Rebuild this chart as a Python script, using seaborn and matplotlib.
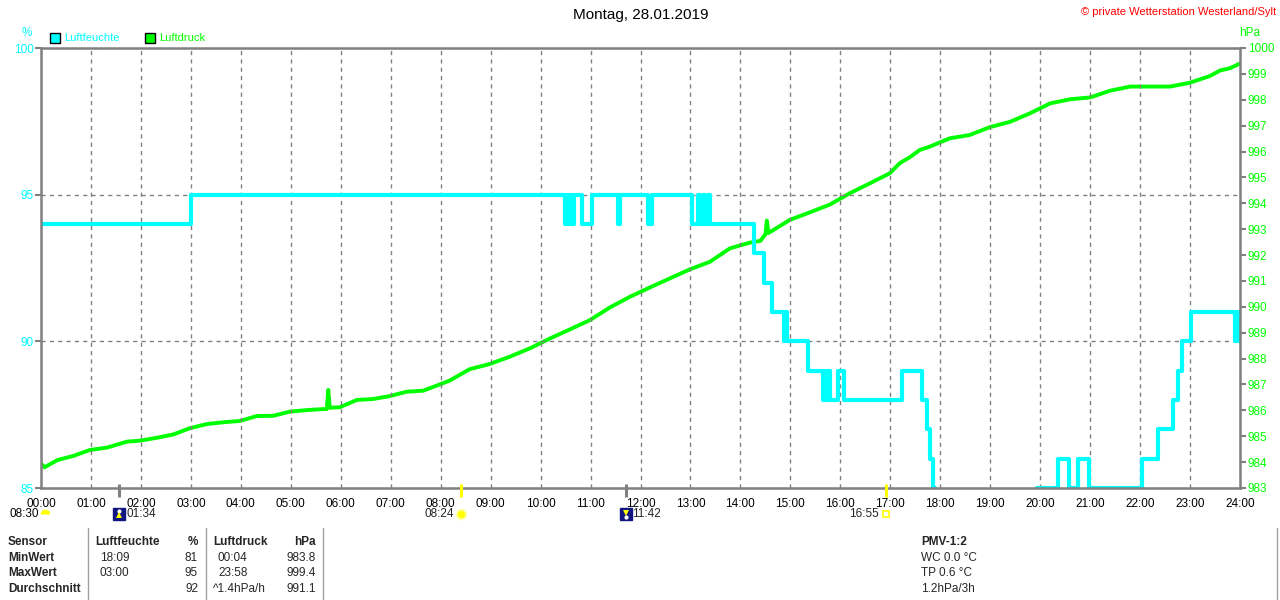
import matplotlib
matplotlib.use("Agg")
import matplotlib.pyplot as plt
import seaborn as sns
from matplotlib.patches import Rectangle
from matplotlib.lines import Line2D
from matplotlib.transforms import blended_transform_factory

# ---------------- data ----------------
hum_hours = [0.0, 3.0, 10.49, 10.53, 10.56, 10.60, 10.63, 10.67, 10.83, 11.03,
             11.54, 11.58, 12.15, 12.23, 13.03, 13.15, 13.20, 13.25, 13.30, 13.35,
             13.39, 14.27, 14.47, 14.63, 14.87, 14.90, 14.93, 15.35, 15.65, 15.69,
             15.72, 15.76, 15.79, 15.95, 16.07, 17.23, 17.63, 17.73, 17.80, 17.85,
             17.89, 18.0, 18.15, 18.6, 19.2, 19.6, 19.94, 20.36, 20.58, 20.76,
             20.98, 22.04, 22.36, 22.66, 22.76, 22.84, 23.02, 23.90, 23.93, 23.97, 24.0]
hum_values = [94, 95, 94, 95, 94, 95, 94, 95, 94, 95,
              94, 95, 94, 95, 94, 95, 94, 95, 94, 95,
              94, 93, 92, 91, 90, 91, 90, 89, 88, 89,
              88, 89, 88, 89, 88, 89, 88, 87, 86, 85,
              84, 82, 81, 82, 83, 84, 85, 86, 85, 86,
              85, 86, 87, 88, 89, 90, 91, 90, 91, 90, 90]

press_hours = [0.00, 0.07, 0.33, 0.65, 0.98, 1.32, 1.72, 1.98, 2.32, 2.65,
               2.98, 3.32, 3.65, 3.98, 4.32, 4.65, 4.98, 5.32, 5.65, 5.72,
               5.75, 5.78, 5.98, 6.32, 6.65, 6.98, 7.32, 7.65, 7.98, 8.18,
               8.58, 8.98, 9.38, 9.79, 10.19, 10.59, 10.99, 11.39, 11.79, 12.19,
               12.59, 12.99, 13.39, 13.79, 14.19, 14.40, 14.50, 14.53, 14.56, 14.99,
               15.39, 15.79, 16.19, 16.59, 16.99, 17.19, 17.39, 17.59, 17.79, 18.19,
               18.59, 18.99, 19.40, 19.80, 20.20, 20.60, 21.00, 21.40, 21.80, 22.20,
               22.60, 23.00, 23.40, 23.60, 23.80, 24.00]
press_values = [983.95, 983.80, 984.08, 984.24, 984.47, 984.56, 984.79, 984.83, 984.94, 985.07,
                985.31, 985.47, 985.54, 985.59, 985.78, 985.79, 985.95, 986.01, 986.05, 986.05,
                986.79, 986.10, 986.12, 986.40, 986.44, 986.55, 986.72, 986.76, 987.00, 987.15,
                987.59, 987.79, 988.07, 988.40, 988.78, 989.13, 989.49, 989.98, 990.39, 990.75,
                991.10, 991.45, 991.74, 992.26, 992.48, 992.55, 992.80, 993.33, 992.85, 993.36,
                993.65, 993.95, 994.39, 994.77, 995.16, 995.55, 995.78, 996.06, 996.19, 996.51,
                996.64, 996.94, 997.15, 997.48, 997.86, 998.02, 998.09, 998.35, 998.51, 998.51,
                998.51, 998.66, 998.92, 999.13, 999.22, 999.40]

hour_ticks = list(range(25))
hour_labels = [f"{h:02d}:00" for h in hour_ticks]
hum_ticks = [85, 90, 95, 100]
press_ticks = list(range(983, 1001))

event_times = [1 + 34 / 60, 8 + 24 / 60, 11 + 42 / 60, 16 + 55 / 60]
event_labels = ["01:34", "08:24", "11:42", "16:55"]

table_rows = ["Sensor", "MinWert", "MaxWert", "Durchschnitt"]
hum_col_times = ["Luftfeuchte", "18:09", "03:00", ""]
hum_col_vals = ["%", "81", "95", "92"]
press_col_times = ["Luftdruck", "00:04", "23:58", "^1.4hPa/h"]
press_col_vals = ["hPa", "983.8", "999.4", "991.1"]
pmv_lines = ["PMV-1:2", "WC 0.0 °C", "TP 0.6 °C", "1.2hPa/3h"]

CYAN = "#00FFFF"
GREEN = "#00FF00"
GRAY = "#808080"

# ---------------- figure ----------------
sns.set_theme(style="white")
plt.rcParams["font.family"] = ["Liberation Sans", "DejaVu Sans"]

W, H = 1280, 600
fig = plt.figure(figsize=(12.8, 6), dpi=100)
fig.patch.set_facecolor("white")
ax = fig.add_axes([41 / W, 1 - 488 / H, (1240 - 41) / W, (488 - 48) / H])
ax2 = ax.twinx()
ax.set_zorder(ax2.get_zorder() + 1)
ax.patch.set_visible(False)

sns.lineplot(x=press_hours, y=press_values, ax=ax2, color=GREEN, lw=2.8,
             estimator=None, sort=False, legend=False)
sns.lineplot(x=hum_hours, y=hum_values, ax=ax, color=CYAN, lw=3.0,
             drawstyle="steps-post", estimator=None, sort=False, legend=False)

ax.set_xlim(0, 24)
ax.set_ylim(85, 100)
ax2.set_ylim(983, 1000)
ax.set_xticks(hour_ticks)
ax.set_xticklabels(hour_labels)
ax.set_yticks(hum_ticks)
ax2.set_yticks(press_ticks)
for a in (ax, ax2):
    a.set_xlabel("")
    a.set_ylabel("")

ax.grid(True, color=GRAY, linestyle=(0, (3, 3)), lw=1.0)
ax2.grid(False)

for s in ax.spines.values():
    s.set_color(GRAY)
    s.set_linewidth(1.8)
for s in ax2.spines.values():
    s.set_visible(False)

ax.tick_params(axis="x", length=0, pad=7, labelsize=8.5, labelcolor="black")
ax.tick_params(axis="y", left=True, direction="out", length=4, width=1.5,
               color=GRAY, labelcolor=CYAN, labelsize=8.5, pad=1)
ax2.tick_params(axis="y", right=True, direction="out", length=4, width=1.5,
                color=GRAY, labelcolor=GREEN, labelsize=8.5, pad=1.5)


def ftext(xpx, ypx, s, **kw):
    kw.setdefault("va", "center")
    kw.setdefault("fontsize", 8.5)
    fig.text(xpx / W, 1 - ypx / H, s, **kw)


# title & header
ftext(641, 15, "Montag, 28.01.2019", ha="center", fontsize=11, color="black")
ftext(1276, 12, "© private Wetterstation Westerland/Sylt", ha="right", color="red",
      fontsize=8)
ftext(27, 33, "%", ha="center", color=CYAN)
ftext(1250, 33, "hPa", ha="center", color=GREEN)

# legend
fig.add_artist(Rectangle((50 / W, 1 - 43 / H), 10 / W, 10 / H, transform=fig.transFigure,
                         facecolor=CYAN, edgecolor="black", lw=1))
ftext(64, 38, "Luftfeuchte", ha="left", color=CYAN, fontsize=8)
fig.add_artist(Rectangle((145 / W, 1 - 43 / H), 10 / W, 10 / H, transform=fig.transFigure,
                         facecolor=GREEN, edgecolor="black", lw=1))
ftext(159, 38, "Luftdruck", ha="left", color=GREEN, fontsize=8)

# sun / moon row
trans = blended_transform_factory(ax.transData, fig.transFigure)
yrow = 1 - 514 / H
ftext(10, 514, "08:30", ha="left", color="black")
fig.add_artist(Line2D([45 / W], [yrow], marker="o", markersize=7, fillstyle="top",
                      markerfacecolor="#FFFF00", markerfacecoloralt="none",
                      markeredgewidth=0, transform=fig.transFigure))

event_colors = [GRAY, "#FFFF00", GRAY, "#FFFF00"]
for t, lab, c in zip(event_times, event_labels, event_colors):
    ax.plot([t, t], [1 - 484 / H, 1 - 497 / H], transform=trans, color=c, lw=2.2,
            clip_on=False, solid_capstyle="butt", zorder=10)

# moonrise 01:34
t = event_times[0]
ax.plot([t], [yrow], transform=trans, marker="s", markersize=8, color="#101880",
        clip_on=False)
ax.plot([t], [yrow + 3 / H], transform=trans, marker="o", markersize=3, color="white",
        clip_on=False, markeredgewidth=0)
ax.plot([t], [yrow - 1 / H], transform=trans, marker="^", markersize=4, color="#FFFF00",
        clip_on=False, markeredgewidth=0)
ax.annotate(event_labels[0], (t, yrow), xycoords=trans, xytext=(5, 0),
            textcoords="offset points", ha="left", va="center", fontsize=8.5)
# sun 08:24
t = event_times[1]
ax.plot([t], [yrow], transform=trans, marker="o", markersize=7, markerfacecolor="#FFFF00",
        markeredgecolor="#FFFFB0", markeredgewidth=1.5, clip_on=False)
ax.annotate(event_labels[1], (t, yrow), xycoords=trans, xytext=(-5, 0),
            textcoords="offset points", ha="right", va="center", fontsize=8.5)
# moonset 11:42
t = event_times[2]
ax.plot([t], [yrow], transform=trans, marker="s", markersize=8, color="#101880",
        clip_on=False)
ax.plot([t], [yrow - 3 / H], transform=trans, marker="o", markersize=3, color="white",
        clip_on=False, markeredgewidth=0)
ax.plot([t], [yrow + 1 / H], transform=trans, marker="v", markersize=4, color="#FFFF00",
        clip_on=False, markeredgewidth=0)
ax.annotate(event_labels[2], (t, yrow), xycoords=trans, xytext=(5, 0),
            textcoords="offset points", ha="left", va="center", fontsize=8.5)
# sunset 16:55
t = event_times[3]
ax.plot([t], [yrow], transform=trans, marker="s", markersize=4, markerfacecolor="none",
        markeredgecolor="#FFFF00", markeredgewidth=1.2, clip_on=False)
ax.annotate(event_labels[3], (t, yrow), xycoords=trans, xytext=(-5, 0),
            textcoords="offset points", ha="right", va="center", fontsize=8.5)

# table
row_y = [542, 558, 573.5, 589]
for i, y in enumerate(row_y):
    ftext(8, y, table_rows[i], ha="left", fontweight="bold")
    bold = "bold" if i == 0 else "normal"
    ftext(95 if i == 0 else 100, y, hum_col_times[i], ha="left", fontweight=bold)
    ftext(198, y, hum_col_vals[i], ha="right", fontweight=bold)
    ftext(213 if i in (0, 3) else 218, y, press_col_times[i], ha="left", fontweight=bold)
    ftext(316, y, press_col_vals[i], ha="right", fontweight=bold)
    ftext(921, y, pmv_lines[i], ha="left", fontweight=bold)

for xpx in (88, 206, 323, 1277):
    fig.add_artist(Line2D([xpx / W, xpx / W], [1 - 528 / H, 0], transform=fig.transFigure,
                          color="#A0A0A0", lw=1))

fig.savefig("out.png", dpi=100, facecolor="white")
